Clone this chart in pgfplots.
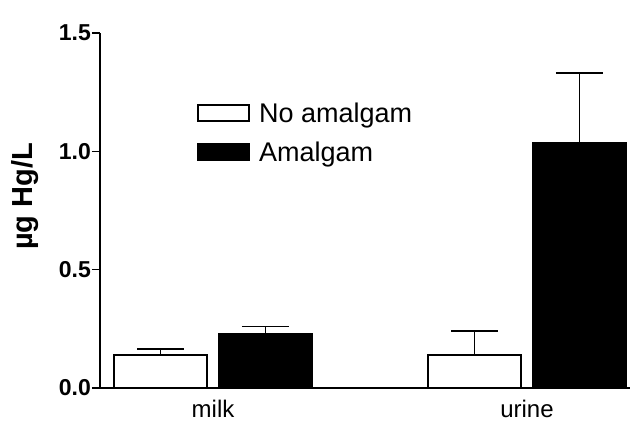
\documentclass[border=0pt]{standalone}
\usepackage{fontspec}
\setmainfont{Liberation Sans}
\usepackage{pgfplots}
\pgfplotsset{compat=1.18}
\begin{document}
\begin{tikzpicture}
\useasboundingbox (-100pt,-37pt) rectangle (530pt,388pt);
\begin{axis}[
  at={(0pt,0pt)}, anchor=south west,
  scale only axis, width=530pt, height=355pt,
  xmin=-0.36, xmax=1.328, ymin=0, ymax=1.5,
  axis x line=bottom, axis y line=left,
  axis line style={-, line width=1.8pt},
  ytick={0,0.5,1,1.5}, yticklabels={0.0,0.5,1.0,1.5},
  xtick={0,1}, xticklabels={milk,urine},
  x tick style={draw=none},
  y tick style={line width=1.6pt, black},
  tick align=outside, major tick length=8pt,
  yticklabel style={font=\bfseries\fontsize{23}{23}\selectfont, inner sep=1pt},
  xticklabel style={font=\fontsize{24}{24}\selectfont, yshift=-1pt},
  ylabel={µg Hg/L},
  ylabel style={font=\bfseries\fontsize{29}{29}\selectfont, at={(axis description cs:-0.1415,0.54)}, anchor=center},
  legend image code/.code={\draw[#1] (0pt,-8pt) rectangle (51pt,8pt); \path[draw=none,fill=none] (0pt,0pt) -- (59pt,0pt);},
  legend style={draw=none, fill=none, at={(0.183,0.81)}, anchor=north west,
    font=\fontsize{27}{30}\selectfont, row sep=14pt, inner sep=0pt, cells={anchor=west}},
  clip=false,
]
\addplot[ybar, bar width=0.296, bar shift=0, fill=white, draw=black, line width=1.8pt,
  error bars/.cd, y dir=plus, y explicit,
  error bar style={line width=1.6pt, black},
  error mark options={line width=1.6pt, mark size=23.5pt, black, rotate=90}]
  coordinates {(-0.167,0.14) +- (0,0.025) (0.833,0.14) +- (0,0.10)};
\addlegendentry{No amalgam}
\addplot[ybar, bar width=0.296, bar shift=0, fill=black, draw=black, line width=1.8pt,
  error bars/.cd, y dir=plus, y explicit,
  error bar style={line width=1.6pt, black},
  error mark options={line width=1.6pt, mark size=23.5pt, black, rotate=90}]
  coordinates {(0.167,0.23) +- (0,0.03) (1.167,1.035) +- (0,0.295)};
\addlegendentry{Amalgam}
\end{axis}
\end{tikzpicture}
\end{document}
